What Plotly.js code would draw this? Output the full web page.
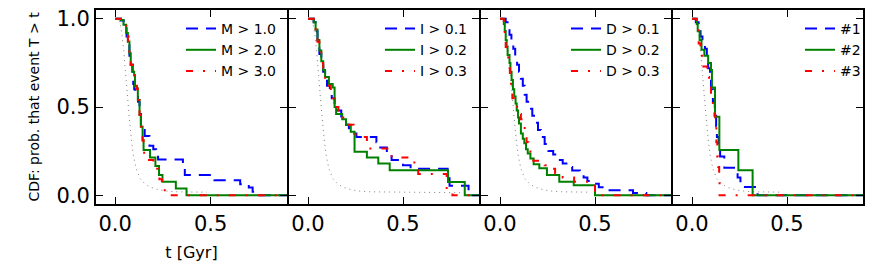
<!DOCTYPE html>
<html>
<head>
<meta charset="utf-8">
<script src="https://cdn.plot.ly/plotly-3.0.1.min.js"></script>
<style>html,body{margin:0;padding:0;background:#fff;}#chart{width:872px;height:262px;}</style>
</head>
<body>
<div id="chart"></div>
<script>
// Reference curve (grey dotted), shared by all panels
const greyT = [0.0, 0.015, 0.025, 0.035, 0.045, 0.055, 0.065, 0.075, 0.085, 0.095, 0.11, 0.13, 0.155, 0.185, 0.23, 0.28, 0.33, 0.40, 0.48];
const greyV = [1.0, 1.0, 0.98, 0.92, 0.82, 0.68, 0.55, 0.43, 0.32, 0.23, 0.15, 0.095, 0.065, 0.045, 0.03, 0.022, 0.019, 0.018, 0.017];
const greyTailT = [0.55, 0.65, 0.75, 0.80];
const greyTailV = [0.016, 0.015, 0.014, 0.014];

// Panel 1: M thresholds
const m1T = [0, 0.03, 0.045, 0.06, 0.07, 0.075, 0.082, 0.09, 0.095, 0.10, 0.105, 0.12, 0.128, 0.135, 0.145, 0.155, 0.18, 0.20, 0.215, 0.225, 0.355, 0.365, 0.52, 0.655, 0.70, 0.72, 0.75, 0.9];
const m1V = [1, 0.99, 0.96, 0.90, 0.85, 0.79, 0.74, 0.70, 0.63, 0.60, 0.57, 0.53, 0.46, 0.39, 0.37, 0.335, 0.28, 0.26, 0.237, 0.203, 0.165, 0.114, 0.085, 0.0625, 0.044, 0.019, 0, 0];
const m2T = [0, 0.03, 0.044, 0.058, 0.067, 0.075, 0.082, 0.093, 0.10, 0.104, 0.114, 0.119, 0.128, 0.135, 0.144, 0.149, 0.183, 0.211, 0.23, 0.248, 0.318, 0.374, 0.9];
const m2V = [1, 0.994, 0.966, 0.919, 0.871, 0.805, 0.739, 0.70, 0.68, 0.616, 0.606, 0.54, 0.455, 0.388, 0.3125, 0.256, 0.214, 0.165, 0.114, 0.076, 0.038, 0, 0];
const m3T = [0, 0.03, 0.045, 0.058, 0.067, 0.075, 0.082, 0.093, 0.10, 0.104, 0.114, 0.119, 0.128, 0.135, 0.144, 0.149, 0.152, 0.20, 0.21, 0.225, 0.232, 0.245, 0.252, 0.26, 0.9];
const m3V = [1, 0.99, 0.96, 0.92, 0.87, 0.80, 0.74, 0.70, 0.68, 0.62, 0.60, 0.54, 0.455, 0.39, 0.31, 0.256, 0.20, 0.17, 0.15, 0.12, 0.09, 0.055, 0.035, 0, 0];

// Panel 2: I thresholds
const i1T = [0, 0.03, 0.04, 0.05, 0.06, 0.07, 0.08, 0.09, 0.10, 0.115, 0.125, 0.14, 0.155, 0.175, 0.19, 0.20, 0.215, 0.225, 0.255, 0.36, 0.375, 0.415, 0.44, 0.50, 0.54, 0.735, 0.745, 0.845, 0.9];
const i1V = [1, 0.98, 0.93, 0.87, 0.80, 0.74, 0.70, 0.66, 0.62, 0.59, 0.55, 0.51, 0.48, 0.44, 0.42, 0.40, 0.38, 0.35, 0.33, 0.30, 0.27, 0.23, 0.20, 0.17, 0.15, 0.114, 0.053, 0, 0];
const i2T = [0, 0.03, 0.04, 0.05, 0.06, 0.07, 0.08, 0.09, 0.11, 0.13, 0.14, 0.148, 0.18, 0.20, 0.225, 0.245, 0.31, 0.37, 0.43, 0.737, 0.825, 0.9];
const i2V = [1, 0.98, 0.94, 0.88, 0.82, 0.76, 0.71, 0.67, 0.63, 0.61, 0.50, 0.46, 0.43, 0.40, 0.36, 0.246, 0.214, 0.18, 0.142, 0.075, 0, 0];
const i3T = [0, 0.03, 0.04, 0.05, 0.06, 0.07, 0.08, 0.09, 0.10, 0.12, 0.13, 0.145, 0.16, 0.18, 0.20, 0.24, 0.25, 0.31, 0.315, 0.425, 0.44, 0.56, 0.58, 0.73, 0.76, 0.9];
const i3V = [1, 0.98, 0.93, 0.87, 0.81, 0.75, 0.70, 0.66, 0.62, 0.58, 0.55, 0.50, 0.47, 0.44, 0.40, 0.36, 0.33, 0.30, 0.265, 0.246, 0.214, 0.17, 0.12, 0.02, 0, 0];

// Panel 3: D thresholds
const d1T = [0, 0.03, 0.04, 0.05, 0.06, 0.07, 0.08, 0.09, 0.10, 0.11, 0.12, 0.13, 0.14, 0.155, 0.17, 0.185, 0.20, 0.215, 0.235, 0.255, 0.28, 0.30, 0.33, 0.36, 0.38, 0.42, 0.44, 0.46, 0.49, 0.52, 0.55, 0.70, 0.77, 0.9];
const d1V = [1, 0.98, 0.95, 0.91, 0.87, 0.83, 0.79, 0.74, 0.70, 0.66, 0.62, 0.57, 0.53, 0.49, 0.45, 0.41, 0.37, 0.33, 0.29, 0.25, 0.23, 0.20, 0.18, 0.16, 0.14, 0.12, 0.10, 0.08, 0.065, 0.045, 0.028, 0.013, 0, 0];
const d2T = [0, 0.02, 0.025, 0.03, 0.035, 0.04, 0.05, 0.055, 0.061, 0.068, 0.075, 0.082, 0.088, 0.095, 0.10, 0.11, 0.12, 0.128, 0.137, 0.146, 0.16, 0.177, 0.207, 0.247, 0.312, 0.388, 0.50, 0.9];
const d2V = [1, 0.97, 0.93, 0.88, 0.84, 0.795, 0.75, 0.70, 0.653, 0.60, 0.56, 0.52, 0.48, 0.44, 0.407, 0.35, 0.32, 0.294, 0.26, 0.237, 0.208, 0.176, 0.152, 0.114, 0.076, 0.057, 0, 0];
const d3T = [0, 0.02, 0.025, 0.03, 0.035, 0.045, 0.052, 0.058, 0.065, 0.075, 0.09, 0.10, 0.11, 0.12, 0.13, 0.14, 0.15, 0.16, 0.175, 0.235, 0.25, 0.29, 0.33, 0.39, 0.50, 0.9];
const d3V = [1, 0.96, 0.90, 0.84, 0.78, 0.72, 0.66, 0.60, 0.55, 0.51, 0.48, 0.46, 0.43, 0.40, 0.35, 0.30, 0.26, 0.23, 0.195, 0.17, 0.15, 0.125, 0.10, 0.076, 0, 0];

// Panel 4: runs #1..#3
const r1T = [0, 0.02, 0.035, 0.045, 0.055, 0.068, 0.078, 0.085, 0.095, 0.10, 0.11, 0.12, 0.127, 0.131, 0.14, 0.148, 0.17, 0.24, 0.255, 0.345, 0.9];
const r1V = [1, 0.98, 0.95, 0.90, 0.86, 0.83, 0.78, 0.72, 0.66, 0.60, 0.53, 0.46, 0.39, 0.33, 0.28, 0.22, 0.155, 0.10, 0.047, 0, 0];
const r2T = [0, 0.025, 0.03, 0.04, 0.05, 0.065, 0.085, 0.10, 0.105, 0.121, 0.144, 0.244, 0.319, 0.9];
const r2V = [1, 0.97, 0.93, 0.88, 0.824, 0.79, 0.75, 0.71, 0.61, 0.445, 0.256, 0.142, 0, 0];
const r3T = [0, 0.025, 0.035, 0.045, 0.06, 0.08, 0.09, 0.10, 0.11, 0.118, 0.123, 0.128, 0.133, 0.138, 0.143, 0.145, 0.9];
const r3V = [1, 0.96, 0.86, 0.79, 0.73, 0.67, 0.62, 0.56, 0.50, 0.45, 0.38, 0.30, 0.22, 0.16, 0.12, 0, 0];

const legendTexts = [
  ['M > 1.0', 'M > 2.0', 'M > 3.0'],
  ['I > 0.1', 'I > 0.2', 'I > 0.3'],
  ['D > 0.1', 'D > 0.2', 'D > 0.3'],
  ['#1', '#2', '#3']
];
const yTitle = 'CDF: prob. that event T > t';
const xTitle = 't [Gyr]';

const panels = [
  [[m1T, m1V], [m2T, m2V], [m3T, m3V]],
  [[i1T, i1V], [i2T, i2V], [i3T, i3V]],
  [[d1T, d1V], [d2T, d2V], [d3T, d3V]],
  [[r1T, r1V], [r2T, r2V], [r3T, r3V]]
];

const styles = [
  {color: 'rgb(0,0,255)', width: 2, dash: '12px,8px'},
  {color: 'rgb(0,128,0)', width: 2, dash: 'solid'},
  {color: 'rgb(255,0,0)', width: 2, dash: '7px,10px,2px,10px'}
];

const FONT = 'DejaVu Sans, Bitstream Vera Sans, sans-serif';
const L = 96, R = 863;
// panel pixel extents (2px gaps so shared borders overlap)
const pStart = [96, 289, 481, 673];
const pEnd = [287, 479, 671, 863];
const legendShift = [-6, -6, -6, 3];
const traces = [];
const layout = {
  width: 872, height: 262,
  margin: {l: 96, r: 9, t: 10, b: 58, pad: 0, autoexpand: false},
  paper_bgcolor: 'white', plot_bgcolor: 'white',
  font: {family: FONT, color: 'black'},
  showlegend: true
};

for (let p = 0; p < 4; p++) {
  const sfx = p === 0 ? '' : String(p + 1);
  const xa = 'x' + sfx, ya = 'y' + sfx;
  const legName = 'legend' + sfx;
  let gT = greyT, gV = greyV;
  if (p === 1) { gT = greyT.concat(greyTailT); gV = greyV.concat(greyTailV); }
  traces.push({x: gT, y: gV, xaxis: xa, yaxis: ya, mode: 'lines', showlegend: false,
    line: {color: 'rgb(128,128,128)', width: 1, dash: '1px,4px'}, hoverinfo: 'skip'});
  for (let s = 0; s < 3; s++) {
    traces.push({x: panels[p][s][0], y: panels[p][s][1], xaxis: xa, yaxis: ya,
      mode: 'lines', line: Object.assign({shape: 'hv'}, styles[s]),
      name: legendTexts[p][s], legend: legName, legendgroup: 'g' + p + s});
  }
  const d0 = (pStart[p] - L) / (R - L), d1 = (pEnd[p] - L) / (R - L);
  layout['xaxis' + sfx] = {
    domain: [d0, d1], anchor: ya, range: [-0.1, 0.9],
    tick0: 0, dtick: 0.5, tickformat: '.1f',
    ticks: 'inside', ticklen: 7, tickwidth: 1, tickcolor: 'black',
    showline: true, linecolor: 'black', linewidth: 2, mirror: 'ticks',
    showgrid: false, zeroline: false,
    tickfont: {size: 21, family: FONT, color: 'black'},
    title: p === 0 ? {text: xTitle, font: {size: 16, family: FONT, color: 'black'}, standoff: 13} : {text: ''}
  };
  layout['yaxis' + sfx] = {
    domain: [0, 1], anchor: xa, range: [-0.05, 1.05],
    tick0: 0, dtick: 0.5, tickformat: '.1f',
    ticks: 'inside', ticklen: 7, tickwidth: 1, tickcolor: 'black',
    showline: true, linecolor: 'black', linewidth: 2, mirror: 'ticks',
    showgrid: false, zeroline: false, showticklabels: p === 0,
    tickfont: {size: 21, family: FONT, color: 'black'},
    title: p === 0 ? {text: yTitle, font: {size: 14, family: FONT, color: 'black'}, standoff: 13} : {text: ''}
  };
  layout[legName] = {
    x: (pEnd[p] + legendShift[p] - L) / (R - L), xref: 'paper', xanchor: 'right',
    y: 1 - 3 / 194, yanchor: 'top',
    bgcolor: 'rgba(0,0,0,0)', borderwidth: 0,
    font: {size: 14, family: FONT, color: 'black'},
    traceorder: 'normal', tracegroupgap: 0
  };
}

Plotly.newPlot('chart', traces, layout, {staticPlot: true});
</script>
</body>
</html>
